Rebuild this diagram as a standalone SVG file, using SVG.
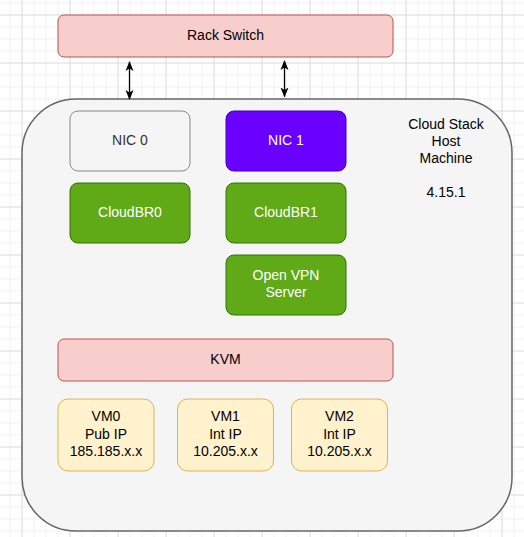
<svg xmlns="http://www.w3.org/2000/svg" width="524" height="537" viewBox="0 0 524 537">
<defs>
<pattern id="minor" patternUnits="userSpaceOnUse" x="21.5" y="14.5" width="12" height="12">
<path d="M0 0.5H12M0.5 0V12" fill="none" stroke="#f0f0f0" stroke-width="1"/>
</pattern>
<pattern id="major" patternUnits="userSpaceOnUse" x="21.5" y="14.5" width="48" height="48">
<path d="M0 0.5H48M0.5 0V48" fill="none" stroke="#e0e0e0" stroke-width="1"/>
</pattern>
<marker id="ah" viewBox="0 0 10 10" refX="9" refY="5" markerWidth="10" markerHeight="10" markerUnits="userSpaceOnUse" orient="auto-start-reverse">
<path d="M0 1L10 5L0 9L2.5 5Z" fill="#000"/>
</marker>
<style>
text{font-family:"Liberation Sans",Arial,Helvetica,sans-serif;font-size:14px;text-anchor:middle}
.red{fill:#f8cecc;stroke:#b85450;stroke-width:1}
.grn{fill:#60a917;stroke:#2d7600;stroke-width:1}
.yel{fill:#fff2cc;stroke:#d6b656;stroke-width:1}
.w{fill:#ffffff}
.d{fill:#000000}
.conn{stroke:#000;stroke-width:1.3;fill:none;marker-start:url(#ah);marker-end:url(#ah)}
</style>
</defs>
<rect width="524" height="537" fill="#ffffff"/>
<rect width="524" height="537" fill="url(#minor)"/>
<rect width="524" height="537" fill="url(#major)"/>

<g id="host">
<rect x="22" y="99" width="490" height="432" rx="54" fill="#f5f5f5" stroke="#666666" stroke-width="1.5"/>
<text class="d" x="446" y="128.5">Cloud Stack</text>
<text class="d" x="446" y="145.5">Host</text>
<text class="d" x="446" y="163">Machine</text>
<text class="d" x="446" y="196.5">4.15.1</text>
</g>

<g id="rack-switch">
<rect class="red" x="58" y="15" width="335" height="42" rx="6"/>
<text class="d" x="225.5" y="40">Rack Switch</text>
</g>

<g id="connectors">
<line class="conn" x1="129.5" y1="62" x2="129.5" y2="99"/>
<line class="conn" x1="284.5" y1="61" x2="284.5" y2="96.5"/>
</g>

<g id="nic0">
<rect x="70" y="111" width="120" height="60" rx="8" fill="#f5f5f5" stroke="#888888" stroke-width="1"/>
<text x="130" y="145" fill="#333333">NIC 0</text>
</g>
<g id="nic1">
<rect x="226" y="111" width="120" height="60" rx="8" fill="#6a00ff" stroke="#3700cc" stroke-width="1"/>
<text class="w" x="286" y="145">NIC 1</text>
</g>
<g id="cloudbr0">
<rect class="grn" x="70" y="183" width="120" height="60" rx="8"/>
<text class="w" x="130" y="217">CloudBR0</text>
</g>
<g id="cloudbr1">
<rect class="grn" x="226" y="183" width="120" height="60" rx="8"/>
<text class="w" x="286" y="217">CloudBR1</text>
</g>
<g id="openvpn">
<rect class="grn" x="226" y="255" width="120" height="60" rx="8"/>
<text class="w" x="286" y="279.5">Open VPN</text>
<text class="w" x="286" y="297">Server</text>
</g>
<g id="kvm">
<rect class="red" x="58" y="339" width="335" height="42" rx="6"/>
<text class="d" x="225.5" y="364">KVM</text>
</g>
<g id="vm0">
<rect class="yel" x="58" y="399" width="96" height="72" rx="10"/>
<text class="d" x="106" y="421">VM0</text>
<text class="d" x="106" y="438.5">Pub IP</text>
<text class="d" x="106" y="456">185.185.x.x</text>
</g>
<g id="vm1">
<rect class="yel" x="177.5" y="399" width="96" height="72" rx="10"/>
<text class="d" x="225.5" y="421">VM1</text>
<text class="d" x="225.5" y="438.5">Int IP</text>
<text class="d" x="225.5" y="456">10.205.x.x</text>
</g>
<g id="vm2">
<rect class="yel" x="291.5" y="399" width="96" height="72" rx="10"/>
<text class="d" x="339.5" y="421">VM2</text>
<text class="d" x="339.5" y="438.5">Int IP</text>
<text class="d" x="339.5" y="456">10.205.x.x</text>
</g>
</svg>
